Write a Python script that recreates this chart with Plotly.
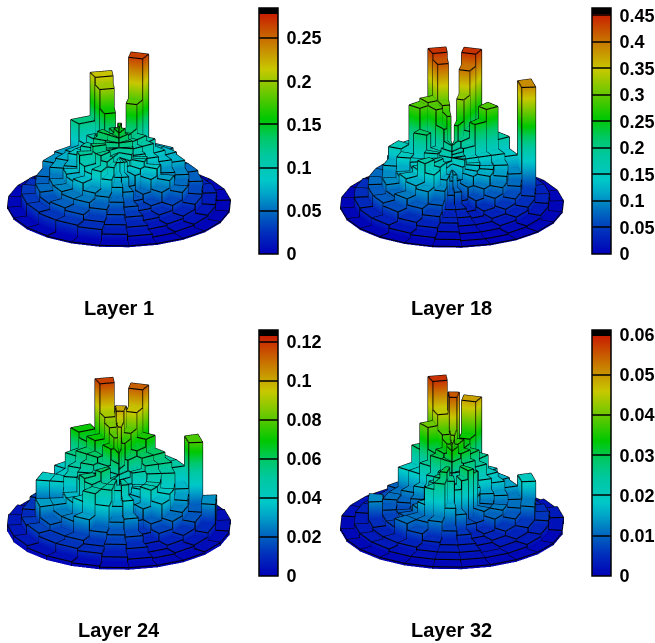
import math
import plotly.graph_objects as go

W, H = 655, 643
N_SECT = 24
N_RING = 8

layer_1 = [
 [.10,.10,.09,.10,.11,.12,.12,.13,.13,.14,.15,.16,.15,.14,.14,.13,.13,.12,.12,.12,.11,.11,.10,.10],
 [.08,.06,.08,.09,.10,.10,.09,.10,.11,.12,.13,.11,.14,.13,.14,.13,.12,.10,.13,.12,.12,.11,.10,.08],
 [.06,.04,.05,.075,.09,.075,.08,.09,.11,.12,.13,.09,.12,.12,.10,.11,.10,.09,.115,.10,.09,.10,.085,.07],
 [.04,.03,.035,.055,.07,.06,.065,.08,.09,.105,.18,.09,.16,.11,.09,.09,.075,.07,.08,.075,.08,.065,.06,.05],
 [.03,.02,.025,.035,.05,.05,.06,.075,.08,.08,.265,.08,.20,.09,.08,.075,.07,.055,.06,.06,.055,.055,.045,.035],
 [.02,.012,.015,.02,.03,.035,.045,.05,.05,.07,.08,.045,.215,.125,.07,.065,.05,.045,.05,.04,.045,.04,.03,.025],
 [.012,.006,.008,.01,.012,.015,.02,.018,.015,.015,.015,.015,.02,.025,.025,.02,.025,.03,.03,.03,.028,.028,.025,.016],
 [.003,.003,.003,.003,.003,.003,.004,.004,.004,.004,.004,.004,.004,.004,.004,.004,.004,.004,.004,.004,.004,.003,.003,.003],
]
layer_18 = [
 [.12,.10,.10,.14,.16,.15,.14,.16,.17,.18,.20,.18,.20,.20,.18,.16,.14,.14,.13,.14,.15,.14,.12,.10],
 [.08,.05,.09,.12,.13,.14,.14,.15,.18,.20,.25,.16,.28,.24,.17,.17,.17,.15,.16,.15,.17,.16,.12,.07],
 [.04,.03,.06,.09,.12,.13,.12,.15,.25,.22,.32,.14,.30,.29,.17,.22,.14,.15,.14,.15,.18,.15,.10,.04],
 [.03,.025,.04,.07,.09,.11,.13,.15,.29,.20,.40,.13,.42,.30,.29,.15,.15,.12,.12,.13,.12,.11,.07,.03],
 [.02,.02,.03,.045,.06,.08,.10,.14,.18,.16,.44,.12,.44,.24,.15,.16,.12,.10,.10,.08,.09,.07,.05,.03],
 [.012,.012,.02,.03,.04,.05,.385,.08,.10,.09,.08,.08,.13,.12,.10,.08,.08,.08,.07,.07,.06,.04,.03,.018],
 [.006,.006,.01,.012,.02,.03,.03,.03,.03,.03,.03,.03,.03,.03,.03,.03,.04,.04,.035,.03,.03,.02,.015,.01],
 [.004,.004,.004,.005,.005,.005,.005,.005,.005,.005,.005,.005,.005,.005,.005,.005,.005,.005,.005,.005,.005,.004,.004,.004],
]
layer_24 = [
 [.03,.03,.02,.025,.03,.03,.03,.04,.045,.05,.055,.07,.07,.06,.05,.045,.04,.04,.035,.04,.045,.05,.04,.03],
 [.05,.03,.03,.035,.04,.04,.04,.05,.05,.06,.075,.09,.08,.07,.055,.05,.05,.045,.05,.05,.06,.05,.05,.045],
 [.04,.02,.03,.045,.045,.045,.05,.055,.06,.065,.08,.10,.085,.06,.06,.055,.05,.045,.05,.055,.052,.05,.05,.035],
 [.028,.012,.02,.035,.04,.04,.05,.055,.06,.072,.095,.05,.09,.07,.06,.05,.045,.035,.035,.035,.04,.05,.04,.025],
 [.016,.008,.015,.022,.025,.03,.035,.05,.05,.05,.112,.04,.117,.065,.055,.04,.04,.025,.03,.025,.025,.03,.02,.018],
 [.01,.005,.008,.012,.018,.02,.078,.02,.022,.02,.018,.015,.05,.07,.04,.03,.04,.022,.03,.02,.015,.015,.012,.014],
 [.005,.004,.005,.006,.01,.028,.012,.008,.008,.008,.008,.008,.008,.012,.012,.015,.012,.01,.013,.015,.012,.012,.01,.007],
 [.002,.002,.002,.003,.003,.004,.004,.003,.002,.002,.002,.002,.002,.003,.004,.003,.005,.006,.006,.006,.004,.004,.003,.002],
]
layer_32 = [
 [.012,.01,.012,.015,.018,.02,.018,.025,.025,.03,.035,.038,.035,.03,.03,.025,.025,.02,.02,.02,.02,.015,.012,.012],
 [.022,.026,.03,.028,.016,.016,.018,.024,.028,.032,.036,.04,.036,.032,.03,.022,.018,.012,.014,.018,.024,.027,.03,.026],
 [.013,.008,.008,.012,.011,.012,.015,.02,.025,.03,.032,.055,.038,.03,.025,.016,.012,.009,.01,.013,.016,.024,.027,.016],
 [.006,.004,.005,.01,.012,.011,.014,.018,.02,.026,.034,.02,.045,.04,.02,.013,.01,.008,.009,.01,.011,.011,.012,.008],
 [.004,.003,.004,.006,.009,.011,.012,.015,.016,.018,.049,.015,.058,.028,.02,.011,.011,.009,.007,.007,.011,.008,.005,.004],
 [.003,.002,.003,.004,.006,.012,.02,.008,.008,.008,.008,.007,.022,.012,.01,.008,.008,.013,.005,.004,.004,.004,.003,.003],
 [.002,.002,.002,.003,.004,.006,.005,.004,.003,.003,.003,.003,.003,.003,.004,.004,.004,.003,.003,.003,.003,.002,.002,.002],
 [.001,.001,.001,.001,.001,.002,.003,.002,.001,.001,.001,.001,.001,.001,.002,.002,.002,.001,.001,.001,.001,.001,.001,.001],
]
titles = ["Layer 1", "Layer 18", "Layer 24", "Layer 32"]
cmaxes = [0.2847, 0.464, 0.126, 0.0611]
ticks = [
    [0, .05, .1, .15, .2, .25],
    [0, .05, .1, .15, .2, .25, .3, .35, .4, .45],
    [0, .02, .04, .06, .08, .1, .12],
    [0, .01, .02, .03, .04, .05, .06],
]
ticktexts = [
    ["0", "0.05", "0.1", "0.15", "0.2", "0.25"],
    ["0", "0.05", "0.1", "0.15", "0.2", "0.25", "0.3", "0.35", "0.4", "0.45"],
    ["0", "0.02", "0.04", "0.06", "0.08", "0.1", "0.12"],
    ["0", "0.01", "0.02", "0.03", "0.04", "0.05", "0.06"],
]
layers = [layer_1, layer_18, layer_24, layer_32]

scale = [
    [0.0, "#0000b8"], [0.09, "#0030bc"], [0.18, "#0070c0"], [0.25, "#00a8c8"], [0.30, "#00c8c8"],
    [0.40, "#00c8a0"], [0.47, "#00c868"], [0.55, "#00c800"], [0.66, "#70c800"], [0.75, "#c8c800"],
    [0.86, "#c87800"], [0.975, "#c81e00"], [0.975, "#000000"], [1.0, "#000000"],
]

# panel geometry, pixels
disk_cx = [119, 452, 119, 452]
disk_cy = [205, 205, 527, 527]
cb_left = [259, 592, 259, 592]
cb_bottom = [254, 254, 576, 576]
box_px = [136, 139, 133, 132]
title_x = [119, 452, 119, 452]
title_y = [308, 308, 630, 630]
SIDE = 238
EYE = 2.0
ZOOM = 1.881
ELEV = math.radians(22)
ROT = math.radians(5)


def build(values):
    xs, ys, zs, I, J, K = [], [], [], [], [], []
    lx, ly, lz = [], [], []
    for r in range(N_RING):
        r0, r1 = r / N_RING, (r + 1) / N_RING
        for s in range(N_SECT):
            h = values[r][s]
            a0 = ROT + 2 * math.pi * s / N_SECT
            a1 = ROT + 2 * math.pi * (s + 1) / N_SECT
            pts = [(r0 * math.sin(a0), -r0 * math.cos(a0)),
                   (r1 * math.sin(a0), -r1 * math.cos(a0)),
                   (r1 * math.sin(a1), -r1 * math.cos(a1)),
                   (r0 * math.sin(a1), -r0 * math.cos(a1))]
            b = len(xs)
            for z in (0, h):
                for (x, y) in pts:
                    xs.append(x); ys.append(y); zs.append(z)
            faces = [(4, 5, 6, 7), (0, 1, 5, 4), (1, 2, 6, 5), (2, 3, 7, 6), (3, 0, 4, 7)]
            for p, q, u, v in faces:
                I += [b + p, b + p]; J += [b + q, b + u]; K += [b + u, b + v]
            for c in range(5):
                (x, y) = pts[c % 4]
                lx.append(x); ly.append(y); lz.append(h)
            lx.append(None); ly.append(None); lz.append(None)
            for (x, y) in pts:
                lx += [x, x, None]; ly += [y, y, None]; lz += [0, h, None]
    return xs, ys, zs, I, J, K, lx, ly, lz


fig = go.Figure()
scene_layout = {}
annotations = []
for n in range(4):
    name = "scene" if n == 0 else f"scene{n + 1}"
    cmax = cmaxes[n]
    xs, ys, zs, I, J, K, lx, ly, lz = build(layers[n])
    fig.add_trace(go.Mesh3d(
        x=xs, y=ys, z=zs, i=I, j=J, k=K, intensity=zs, intensitymode="vertex",
        cmin=0, cmax=cmax, colorscale=scale, scene=name, flatshading=True,
        lighting=dict(ambient=1, diffuse=0, specular=0, roughness=1, fresnel=0),
        hoverinfo="skip", showscale=True,
        colorbar=dict(
            thickness=19, thicknessmode="pixels", len=246, lenmode="pixels",
            x=cb_left[n] / W, xanchor="left", xpad=0,
            y=1 - cb_bottom[n] / H, yanchor="bottom", ypad=0,
            outlinewidth=1.5, outlinecolor="#000000",
            tickmode="array", tickvals=ticks[n], ticktext=["\u2009" + t for t in ticktexts[n]],
            ticks="inside", ticklen=19, tickwidth=1.5, tickcolor="rgba(0,0,0,0.75)",
            tickfont=dict(family="Liberation Sans", size=18, color="#000000", weight="bold"),
        ),
    ))
    fig.add_trace(go.Scatter3d(
        x=lx, y=ly, z=lz, mode="lines", line=dict(color="#000000", width=2.2),
        scene=name, hoverinfo="skip", showlegend=False,
    ))
    cy = disk_cy[n] - box_px[n] / 2
    axis = dict(visible=False, showgrid=False, zeroline=False, showbackground=False, showspikes=False)
    scene_layout[name] = dict(
        domain=dict(x=[(disk_cx[n] - SIDE / 2) / W, (disk_cx[n] + SIDE / 2) / W],
                    y=[1 - (cy + SIDE / 2) / H, 1 - (cy - SIDE / 2) / H]),
        xaxis=dict(axis, range=[-1, 1]), yaxis=dict(axis, range=[-1, 1]),
        zaxis=dict(axis, range=[0, cmax]),
        aspectmode="manual",
        aspectratio=dict(x=ZOOM, y=ZOOM, z=ZOOM * box_px[n] / (222 * math.cos(ELEV))),
        camera=dict(projection=dict(type="orthographic"),
                    eye=dict(x=0, y=-EYE * math.cos(ELEV), z=EYE * math.sin(ELEV)),
                    center=dict(x=0, y=0, z=0), up=dict(x=0, y=0, z=1)),
        bgcolor="rgba(0,0,0,0)",
    )
    annotations.append(dict(
        text=titles[n], x=title_x[n] / W, y=1 - title_y[n] / H, xref="paper", yref="paper",
        xanchor="center", yanchor="middle", showarrow=False,
        font=dict(family="Liberation Sans", size=20, color="#000000", weight="bold"),
    ))

fig.update_layout(width=W, height=H, margin=dict(l=0, r=0, t=0, b=0, autoexpand=False), showlegend=False,
                  paper_bgcolor="white", annotations=annotations, **scene_layout)
fig.write_html("out.html", config=dict(displayModeBar=False),
               post_script="document.body.style.margin='0';document.documentElement.style.overflow='hidden';")
